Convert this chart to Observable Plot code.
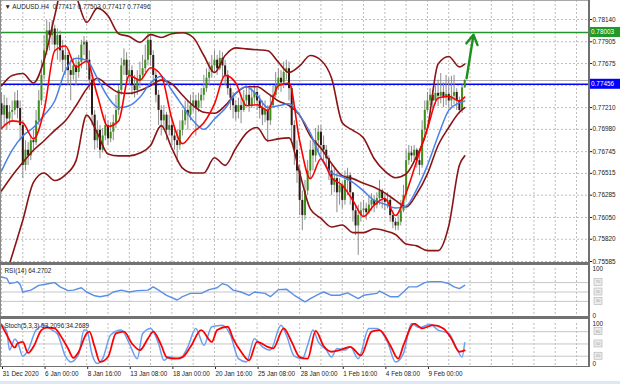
<!DOCTYPE html>
<html><head><meta charset="utf-8">
<script src="https://cdn.jsdelivr.net/npm/d3@7"></script>
<script src="https://cdn.jsdelivr.net/npm/@observablehq/plot@0.6"></script>
<style>
html,body{margin:0;padding:0;background:#fff}
#chart{position:relative;width:620px;height:384px;overflow:hidden;background:#fff;font-family:"Liberation Sans",Arial,sans-serif}
#chart svg{position:absolute;left:0;display:block;background:transparent;max-width:none}
.bx{position:absolute}
</style></head><body>
<div id="chart"></div>
<script>
// ---------- DATA (AUDUSD H4) ----------
const headerText = "▼ AUDUSD.H4  0.77417 0.77503 0.77417 0.77496";
const rsiTitle = "RSI(14) 64.2702";
const stochTitle = "Stoch(5,3,3) 53.2096 34.2689";

const firstOpen = 0.7725;
const closes = [
0.7713,0.7723,0.7709,0.7716,0.7718,0.7728,0.7720,0.7702,0.7660,0.7676,0.7670,0.7686,0.7684,0.7707,0.7728,0.7755,0.7781,0.7802,0.7797,0.7804,0.7787,
0.7797,0.7781,0.7771,0.7776,0.7760,0.7755,0.7765,0.7758,0.7769,0.7787,0.7790,0.7771,0.7750,0.7713,0.7686,0.7697,0.7676,0.7691,0.7702,0.7688,
0.7695,0.7705,0.7718,0.7739,0.7765,0.7771,0.7755,0.7760,0.7744,0.7739,0.7750,0.7755,0.7762,0.7771,0.7792,0.7776,0.7755,0.7734,0.7718,0.7707,
0.7713,0.7697,0.7702,0.7691,0.7686,0.7681,0.7697,0.7707,0.7718,0.7713,0.7723,0.7728,0.7720,0.7728,0.7734,0.7741,0.7752,0.7758,0.7765,0.7771,
0.7762,0.7773,0.7765,0.7755,0.7741,0.7731,0.7723,0.7716,0.7723,0.7718,0.7728,0.7734,0.7723,0.7731,0.7737,0.7728,0.7720,0.7713,0.7718,0.7707,
0.7723,0.7734,0.7744,0.7752,0.7747,0.7758,0.7762,0.7741,0.7702,0.7676,0.7654,0.7623,0.7607,0.7633,0.7654,0.7676,0.7670,0.7686,0.7695,0.7681,
0.7676,0.7667,0.7654,0.7639,0.7646,0.7631,0.7639,0.7623,0.7644,0.7649,0.7631,0.7612,0.7596,0.7607,0.7612,0.7614,0.7610,0.7618,0.7623,0.7618,
0.7625,0.7633,0.7625,0.7621,0.7623,0.7607,0.7600,0.7596,0.7600,0.7612,0.7628,0.7665,0.7673,0.7670,0.7676,0.7665,0.7660,0.7697,0.7718,0.7728,
0.7734,0.7728,0.7736,0.7733,0.7737,0.7731,0.7735,0.7728,0.7733,0.7737,0.7728,0.7718,0.77417,0.77496];
const highs = [
0.7737,0.7734,0.7731,0.7723,0.7728,0.7737,0.7739,0.7728,0.7707,0.7686,0.7684,0.7691,0.7697,0.7718,0.7739,0.7771,0.7797,0.7813,0.7811,0.7813,0.7808,
0.7804,0.7802,0.7792,0.7787,0.7779,0.7771,0.7773,0.7771,0.7776,0.7792,0.7796,0.7792,0.7781,0.7755,0.7718,0.7707,0.7702,0.7699,0.7713,0.7707,
0.7705,0.7713,0.7734,0.7744,0.7773,0.7783,0.7779,0.7771,0.7765,0.7755,0.7760,0.7769,0.7776,0.7787,0.7799,0.7797,0.7781,0.7760,0.7739,0.7723,
0.7723,0.7716,0.7713,0.7709,0.7699,0.7697,0.7707,0.7718,0.7728,0.7728,0.7734,0.7737,0.7734,0.7736,0.7741,0.7755,0.7762,0.7769,0.7776,0.7781,
0.7776,0.7781,0.7779,0.7771,0.7760,0.7744,0.7737,0.7728,0.7731,0.7734,0.7739,0.7744,0.7741,0.7741,0.7744,0.7741,0.7734,0.7728,0.7728,0.7723,
0.7734,0.7744,0.7758,0.7762,0.7760,0.7769,0.7771,0.7769,0.7744,0.7707,0.7686,0.7660,0.7633,0.7644,0.7665,0.7686,0.7686,0.7699,0.7702,0.7702,
0.7691,0.7681,0.7670,0.7660,0.7657,0.7652,0.7646,0.7642,0.7654,0.7657,0.7652,0.7628,0.7618,0.7618,0.7621,0.7623,0.7620,0.7627,0.7630,0.7628,
0.7631,0.7644,0.7635,0.7630,0.7631,0.7625,0.7612,0.7604,0.7607,0.7623,0.7639,0.7676,0.7681,0.7680,0.7681,0.7678,0.7676,0.7707,0.7728,0.7737,
0.7741,0.7739,0.7744,0.7750,0.7757,0.7747,0.7755,0.7752,0.7754,0.7755,0.7741,0.7732,0.7745,0.77503];
const lows = [
0.7699,0.7702,0.7697,0.7702,0.7707,0.7713,0.7709,0.7686,0.7646,0.7654,0.7660,0.7665,0.7676,0.7681,0.7702,0.7723,0.7750,0.7776,0.7781,0.7787,0.7779,
0.7771,0.7769,0.7758,0.7755,0.7744,0.7728,0.7750,0.7744,0.7752,0.7762,0.7776,0.7760,0.7739,0.7702,0.7676,0.7678,0.7667,0.7673,0.7686,0.7681,
0.7684,0.7686,0.7699,0.7713,0.7734,0.7755,0.7747,0.7744,0.7734,0.7731,0.7734,0.7741,0.7750,0.7758,0.7765,0.7765,0.7744,0.7726,0.7702,0.7691,
0.7697,0.7686,0.7691,0.7681,0.7676,0.7663,0.7676,0.7691,0.7702,0.7697,0.7707,0.7716,0.7691,0.7716,0.7720,0.7728,0.7737,0.7744,0.7752,0.7758,
0.7755,0.7760,0.7752,0.7744,0.7734,0.7718,0.7709,0.7707,0.7709,0.7704,0.7716,0.7723,0.7716,0.7720,0.7723,0.7718,0.7709,0.7702,0.7705,0.7684,
0.7702,0.7720,0.7731,0.7739,0.7737,0.7741,0.7750,0.7728,0.7686,0.7660,0.7641,0.7607,0.7591,0.7602,0.7628,0.7646,0.7654,0.7663,0.7673,0.7667,
0.7665,0.7657,0.7644,0.7628,0.7631,0.7610,0.7618,0.7614,0.7618,0.7628,0.7618,0.7600,0.7586,0.7565,0.7600,0.7606,0.7602,0.7608,0.7612,0.7610,
0.7614,0.7618,0.7614,0.7612,0.7614,0.7600,0.7593,0.7591,0.7591,0.7596,0.7610,0.7623,0.7660,0.7663,0.7665,0.7657,0.7649,0.7657,0.7691,0.7716,
0.7723,0.7720,0.7724,0.7722,0.7725,0.7721,0.7723,0.7720,0.7722,0.7724,0.7718,0.7714,0.7715,0.77417];

// indicator lines, sampled every 4 bars
const lineBars = [0,4,8,12,16,20,24,28,32,36,40,44,48,52,56,60,64,68,72,76,80,84,88,92,96,100,104,108,112,116,120,124,128,132,136,140,144,148,152,156,160,164,168,172,174];
const redMA = [0.7699,0.7707,0.7705,0.7688,0.7718,0.7781,0.7786,0.7764,0.7770,0.7734,0.7701,0.7707,0.7755,0.7750,0.7763,0.7755,0.7709,0.7683,0.7695,0.7705,0.7725,0.7755,0.7747,0.7723,0.7724,0.7718,0.7744,0.7747,0.7686,0.7646,0.7667,0.7647,0.7639,0.7623,0.7606,0.7618,0.7625,0.7607,0.7631,0.7665,0.7699,0.7731,0.7733,0.7728,0.7732];
const blueMA = [0.7654,0.7676,0.7691,0.7700,0.7713,0.7728,0.7760,0.7773,0.7771,0.7752,0.7732,0.7721,0.7723,0.7732,0.7747,0.7754,0.7739,0.7723,0.7707,0.7698,0.7709,0.7720,0.7736,0.7743,0.7734,0.7721,0.7723,0.7725,0.7713,0.7694,0.7668,0.7652,0.7648,0.7642,0.7633,0.7623,0.7619,0.7615,0.7617,0.7635,0.7660,0.7691,0.7718,0.7726,0.7728];
const bbUpper = [0.7744,0.7755,0.7757,0.7747,0.7771,0.7818,0.7860,0.7839,0.7811,0.7826,0.7818,0.7799,0.7796,0.7790,0.7798,0.7795,0.7799,0.7800,0.7795,0.7776,0.7758,0.7776,0.7784,0.7783,0.7782,0.7781,0.7769,0.7758,0.7765,0.7776,0.7771,0.7752,0.7705,0.7697,0.7689,0.7667,0.7654,0.7647,0.7651,0.7670,0.7699,0.7767,0.7775,0.7764,0.7767];
const bbMiddle = [0.7633,0.7649,0.7663,0.7676,0.7686,0.7697,0.7707,0.7723,0.7741,0.7752,0.7744,0.7737,0.7736,0.7739,0.7744,0.7750,0.7746,0.7734,0.7723,0.7716,0.7715,0.7723,0.7736,0.7743,0.7743,0.7736,0.7728,0.7723,0.7713,0.7691,0.7678,0.7662,0.7649,0.7646,0.7641,0.7637,0.7631,0.7623,0.7616,0.7630,0.7651,0.7681,0.7700,0.7716,0.7721];
const bbLower = [0.7528,0.7565,0.7602,0.7642,0.7652,0.7644,0.7650,0.7665,0.7713,0.7694,0.7672,0.7670,0.7670,0.7673,0.7681,0.7702,0.7678,0.7657,0.7652,0.7652,0.7668,0.7660,0.7678,0.7694,0.7700,0.7686,0.7688,0.7689,0.7652,0.7614,0.7604,0.7595,0.7597,0.7589,0.7589,0.7593,0.7591,0.7587,0.7577,0.7575,0.7570,0.7570,0.7596,0.7660,0.7670];

const greenLevel = 0.78003, blueLevel = 0.77456, bidLevel = 0.77496;
const arrowRows = [{x1: 174.7, y1: 0.7752, x2: 177.3, y2: 0.7798}];

// price grid lines; the 0.77445 label sits under the blue price tag in the reference
const priceTicks = [0.78140,0.77905,0.77675,0.77445,0.77210,0.76980,0.76745,0.76515,0.76285,0.76050,0.75820,0.75585];
const priceLabelTicks = [0.78140,0.77905,0.77675,0.77210,0.76980,0.76745,0.76515,0.76285,0.76050,0.75820,0.75585];
const dateBars = [0,16,32,48,64,80,96,112,128,144,160];
const dateLabels = ["31 Dec 2020","6 Jan 00:00","8 Jan 16:00","13 Jan 08:00","18 Jan 00:00","20 Jan 16:00","25 Jan 08:00","28 Jan 00:00","1 Feb 16:00","4 Feb 08:00","9 Feb 00:00"];

const rsiBars = [0,2,3,5,6,7,8,11,12,14,16,18,20,22,25,27,30,32,35,37,40,42,45,48,51,55,57,59,62,66,68,71,75,78,81,83,85,87,90,93,95,99,101,104,107,110,114,116,119,121,124,127,130,134,136,141,142,146,149,151,153,156,159,161,165,168,170,172,174];
const rsiValues = [82,79,68,70,72,66,50,54,57,64,66,68,70,61,53,54,59,50,42,40,43,50,54,50,53,54,61,54,43,33,40,47,47,55,59,68,64,54,50,43,50,47,40,55,56,43,29,36,45,50,43,43,48,36,43,47,52,40,40,50,61,61,70,72,72,68,61,57,64.27];
const rsiLevels = [70,50,30];

const stochMainBars = [0,2,3,5,6,8,10,13,16,19,21,24,26,29,31,32,34,36,38,41,45,48,51,53,56,59,61,63,67,70,73,76,79,83,86,89,92,95,98,101,105,107,110,113,115,117,119,122,124,126,129,131,134,138,141,145,148,151,154,157,161,164,168,171,173,174];
const stochMain = [98,80,35,62,55,20,35,84,95,84,75,20,6,25,84,84,25,2,14,72,84,51,14,75,88,51,10,18,14,43,88,47,92,96,72,14,6,63,43,35,96,72,20,14,47,84,55,35,18,39,35,43,14,88,88,55,6,27,100,90,98,84,76,39,18,53.21];
const stochSignalBars = [0,2,5,6,8,10,12,15,17,20,22,25,27,29,32,33,35,37,40,43,46,49,52,55,57,60,62,65,68,71,75,79,81,85,87,90,93,96,100,102,106,109,112,115,118,121,124,127,131,135,139,142,146,149,151,155,158,162,166,169,172,174];
const stochSignal = [96,72,41,51,55,28,43,84,90,88,72,39,16,31,76,80,43,6,18,76,80,51,35,63,80,47,18,14,18,43,84,55,84,92,63,31,10,55,43,39,88,55,18,14,82,45,31,35,43,22,80,84,47,14,47,100,88,96,88,63,31,34.27];
const stochLevels = [80,50,20];

// ---------- DRAWING ----------
const FONT = '"Liberation Sans", Arial, sans-serif';
const FS = "6.4px";
const XD = [0, 220.5];
const gridBars = d3.range(0, 221, 8);
const bars = closes.map((c, i) => {
  const o = i ? closes[i - 1] : firstOpen;
  return {bar: i, open: o, close: c, high: Math.max(highs[i], o, c), low: Math.min(lows[i], o, c)};
});
const lineRows = lineBars.map((b, k) => ({bar: b, red: redMA[k], blue: blueMA[k], upper: bbUpper[k], middle: bbMiddle[k], lower: bbLower[k]}));
const rsiRows = rsiBars.map((b, k) => ({bar: b, v: rsiValues[k]}));
const kRows = stochMainBars.map((b, k) => ({bar: b, v: stochMain[k]}));
const dRows = stochSignalBars.map((b, k) => ({bar: b, v: stochSignal[k]}));
const dateMap = new Map(dateBars.map((b, k) => [b, dateLabels[k]]));

const common = {width: 620, marginLeft: 1, marginRight: 32, x: {domain: XD, axis: null},
  style: {fontFamily: FONT, fontSize: FS, background: "transparent", color: "#222", overflow: "visible"}};
const gridV = () => Plot.gridX(gridBars, {stroke: "#bdbdbd", strokeOpacity: 1, strokeDasharray: "2,2"});
const band = (key) => Plot.line(lineRows, {x: "bar", y: key, stroke: "#8b1414", strokeWidth: 1.6, curve: "monotone-x", clip: true});

const main = Plot.plot({...common, height: 263, marginTop: 0, marginBottom: 0,
  y: {domain: [0.755639, 0.783406], axis: null},
  marks: [
    gridV(),
    Plot.gridY(priceTicks, {stroke: "#bdbdbd", strokeOpacity: 1, strokeDasharray: "2,2"}),
    Plot.ruleY([bidLevel], {stroke: "#b0b0b0"}),
    Plot.ruleY([greenLevel], {stroke: "#22962a", strokeWidth: 1.6}),
    Plot.ruleY([blueLevel], {stroke: "#0000ff", strokeWidth: 1.6}),
    Plot.ruleX(bars, {x: "bar", y1: "low", y2: "high", stroke: "#8c8c8c", strokeWidth: 1}),
    Plot.ruleX(bars, {x: "bar", y1: "open", y2: "close", stroke: d => d.close >= d.open ? "#3f8f1c" : "#2e1818", strokeWidth: 2}),
    band("upper"), band("middle"), band("lower"),
    Plot.line(lineRows, {x: "bar", y: "blue", stroke: "#4a80e6", strokeWidth: 1.5, curve: "monotone-x", clip: true}),
    Plot.line(lineRows, {x: "bar", y: "red", stroke: "#ff0000", strokeWidth: 1.6, curve: "monotone-x", clip: true}),
    Plot.arrow(arrowRows, {x1: "x1", y1: "y1", x2: "x2", y2: "y2", stroke: "#1e8f1e", strokeWidth: 2.4, headLength: 7}),
    Plot.axisY(priceLabelTicks, {anchor: "right", label: null, tickSize: 3, tickPadding: 1, tickFormat: d => d.toFixed(5)}),
    Plot.text([headerText], {text: d => d, frameAnchor: "top-left", dx: 3, dy: 4, textAnchor: "start", lineAnchor: "top", fill: "#222"})
  ]});

const rsi = Plot.plot({...common, height: 53, marginTop: 4, marginBottom: 2,
  y: {domain: [0, 100], axis: null},
  marks: [
    gridV(),
    Plot.ruleY(rsiLevels, {stroke: "#c6c6c6"}),
    Plot.line(rsiRows, {x: "bar", y: "v", stroke: "#5a8fe6", strokeWidth: 1.4}),
    Plot.axisY([0, 100], {anchor: "right", label: null, tickSize: 0, tickPadding: 4}),
    Plot.text([rsiTitle], {text: d => d, frameAnchor: "top-left", dx: 3, dy: 0, textAnchor: "start", lineAnchor: "top", fill: "#222"})
  ]});

const stoch = Plot.plot({...common, height: 64, marginTop: 5, marginBottom: 16,
  y: {domain: [-5.1, 100], axis: null},
  marks: [
    gridV(),
    Plot.ruleY(stochLevels, {stroke: "#c6c6c6"}),
    Plot.line(kRows, {x: "bar", y: "v", stroke: "#6a9ff0", strokeWidth: 1.5, curve: "monotone-x", clip: true}),
    Plot.line(dRows, {x: "bar", y: "v", stroke: "#ff0000", strokeWidth: 1.8, curve: "monotone-x", clip: true}),
    Plot.axisY([0, 100], {anchor: "right", label: null, tickSize: 0, tickPadding: 4}),
    Plot.axisX(dateBars, {anchor: "bottom", label: null, tickSize: 3, tickPadding: 2, tickFormat: d => dateMap.get(d), textAnchor: "start", dx: 1}),
    Plot.text([stochTitle], {text: d => d, frameAnchor: "top-left", dx: 3, dy: 0, textAnchor: "start", lineAnchor: "top", fill: "#222"})
  ]});

const root = document.getElementById("chart");
[[main, 0], [rsi, 264], [stoch, 318]].forEach(([svg, top]) => { svg.style.top = top + "px"; root.appendChild(svg); });

// price tags on the right axis
const ym = main.scale("y");
function tag(value, label, bg) {
  const g = d3.select(main).append("g").attr("text-anchor", "start");
  const y = ym.apply(value);
  g.append("rect").attr("x", 589).attr("y", y - 5).attr("width", 31).attr("height", 10).attr("fill", bg);
  g.append("text").attr("x", 591).attr("y", y).attr("dy", "0.34em").attr("fill", "#fff")
    .attr("text-anchor", "start").attr("font-family", FONT).attr("font-size", FS).text(label);
}
tag(greenLevel, greenLevel.toFixed(5), "#1f9a27");
tag(blueLevel, blueLevel.toFixed(5), "#0000ff");

// small level boxes
function levelBoxes(svg, levels) {
  const ys = svg.scale("y");
  const g = d3.select(svg).append("g");
  levels.forEach(l => {
    const y = ys.apply(l);
    g.append("rect").attr("x", 594).attr("y", y - 3.5).attr("width", 8).attr("height", 7)
      .attr("fill", "#ececec").attr("stroke", "#b0b0b0").attr("stroke-width", 0.6);
    g.append("text").attr("x", 598).attr("y", y).attr("dy", "0.34em").attr("text-anchor", "middle")
      .attr("font-family", FONT).attr("font-size", "4px").attr("fill", "#a0a0a0").text(l);
  });
}
levelBoxes(rsi, rsiLevels);
levelBoxes(stoch, stochLevels);

// window frame and panel separators
function box(l, t, w, h, bg) {
  const d = document.createElement("div");
  d.className = "bx";
  Object.assign(d.style, {left: l + "px", top: t + "px", width: w + "px", height: h + "px", background: bg});
  root.appendChild(d);
}
box(0, 0, 589, 1, "#a8a8a8");
box(0, 0, 1, 367, "#8a8a8a");
box(588, 0, 2, 367, "#707070");
box(0, 262, 590, 3, "#727272");
box(0, 316, 590, 3, "#727272");
box(0, 366, 590, 1, "#707070");
box(0, 381, 620, 3, "#dde8f4");
</script>
</body></html>
